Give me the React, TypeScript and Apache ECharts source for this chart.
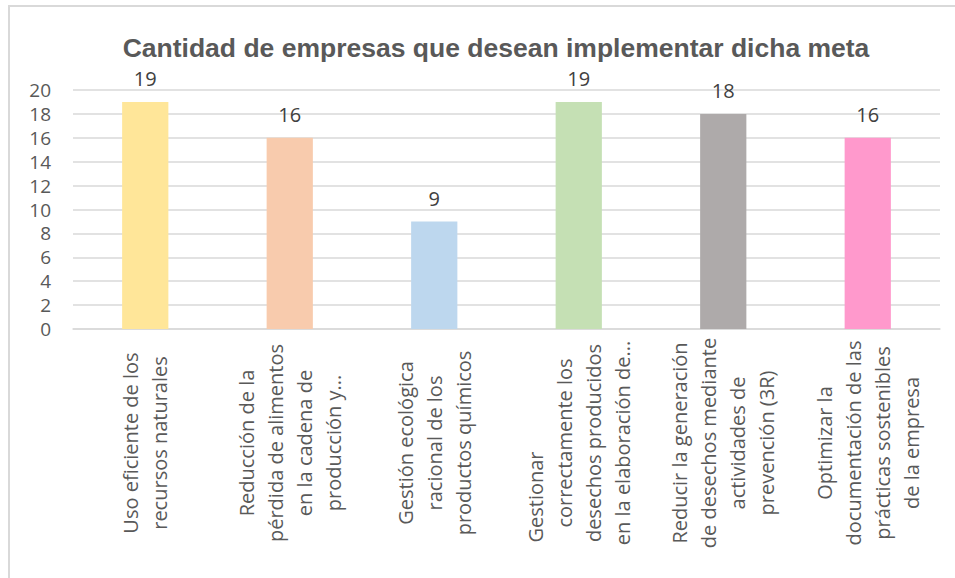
import React, { useEffect, useRef } from "react";
import * as echarts from "echarts";

const titleText = "Cantidad de empresas que desean implementar dicha meta";
const categories = [
  "Uso eficiente de los\nrecursos naturales",
  "Reducción de la\npérdida de alimentos\nen la cadena de\nproducción y...",
  "Gestión ecológica\nracional de los\nproductos químicos",
  "{g|Gestionar}\ncorrectamente los\ndesechos producidos\nen la elaboración de...",
  "Reducir la generación\nde desechos mediante\nactividades de\nprevención (3R)",
  "Optimizar la\ndocumentación de las\nprácticas sostenibles\nde la empresa",
];
const values = [19, 16, 9, 19, 18, 16];
const barColors = ["#FFE699", "#F8CBAD", "#BDD7EE", "#C5E0B4", "#AEAAAA", "#FF99CC"];
const yMin = 0;
const yMax = 20;
const yInterval = 2;

export default function App() {
  const ref = useRef<HTMLDivElement>(null);
  useEffect(() => {
    if (!ref.current) return;
    const chart = echarts.init(ref.current, null, { renderer: "svg" });
    chart.setOption({
      animation: false,
      backgroundColor: "#ffffff",
      title: {
        text: titleText,
        left: 491,
        textAlign: "center",
        top: 29,
        textStyle: {
          fontFamily: "Liberation Sans",
          fontWeight: "bold",
          fontSize: 26.5,
          color: "#595959",
        },
      },
      graphic: [
        {
          type: "polyline",
          shape: { points: [[9, 600], [9, 6], [960, 6]] },
          style: { stroke: "#d9d9d9", lineWidth: 2, fill: "none" },
          silent: true,
        },
      ],
      grid: { left: 73, right: 15, top: 90, bottom: 249, containLabel: false },
      xAxis: {
        type: "category",
        data: categories,
        axisLine: { show: true, lineStyle: { color: "#d9d9d9", width: 1.5 } },
        axisTick: { show: false },
        axisLabel: {
          interval: 0,
          rotate: 90,
          align: "center",
          verticalAlign: "middle",
          margin: 114,
          fontFamily: "Open Sans",
          fontSize: 20,
          lineHeight: 29,
          color: "#595959",
          rich: {
            g: {
              fontFamily: "Open Sans",
              fontSize: 20,
              lineHeight: 29,
              color: "#595959",
              padding: [0, 108, 0, 0],
            },
          },
        },
      },
      yAxis: {
        type: "value",
        min: yMin,
        max: yMax,
        interval: yInterval,
        axisLine: { show: false },
        axisTick: { show: false },
        splitLine: { lineStyle: { color: "#d9d9d9", width: 1.5 } },
        axisLabel: {
          margin: 22,
          fontFamily: "Open Sans",
          fontSize: 19,
          color: "#595959",
        },
      },
      series: [
        {
          type: "bar",
          barWidth: "32%",
          data: values.map((v, i) => ({ value: v, itemStyle: { color: barColors[i] } })),
          label: {
            show: true,
            position: "top",
            distance: 13,
            fontFamily: "Open Sans",
            fontSize: 20,
            color: "#404040",
          },
        },
      ],
    });
    return () => chart.dispose();
  }, []);
  return (
    <div
      ref={ref}
      style={{ position: "absolute", left: 0, top: 0, width: 955, height: 578 }}
    />
  );
}
